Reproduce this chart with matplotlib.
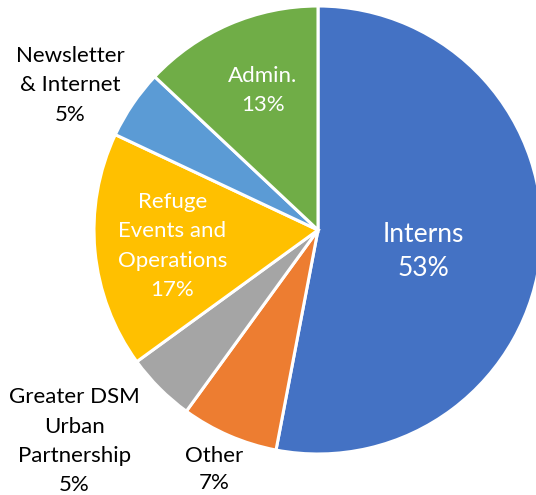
import matplotlib.pyplot as plt

plt.rcParams['font.family'] = ['Lato', 'DejaVu Sans']

labels = ['Interns', 'Other', 'Greater DSM\nUrban\nPartnership',
          'Refuge\nEvents and\nOperations', 'Newsletter\n& Internet', 'Admin.']
shares = [53, 7, 5, 17, 5, 13]
colors = ['#4472C4', '#ED7D31', '#A5A5A5', '#FFC000', '#5B9BD5', '#70AD47']

# label layout (axes data units, radius = 1)
label_xy = [(0.469, -0.097), (-0.462, -1.070), (-1.089, -0.943),
            (-0.650, -0.072), (-1.105, 0.646), (-0.246, 0.622)]
label_inside = [True, False, False, True, False, True]
label_size = [19, 16, 16, 16, 16, 16]
label_spacing = [1.47, 1.45, 1.59, 1.59, 1.59, 1.59]

fig = plt.figure(figsize=(5.36, 4.95), dpi=100)
cx, cy, r = 318, 230, 224
W, H = 536, 495
ax = fig.add_axes([(cx - r) / W, (H - cy - r) / H, 2 * r / W, 2 * r / H])

ax.pie(shares, colors=colors, startangle=90, counterclock=False, radius=1,
       wedgeprops=dict(edgecolor='white', linewidth=2.2))

for lab, val, (x, y), inside, fs, ls in zip(labels, shares, label_xy,
                                            label_inside, label_size,
                                            label_spacing):
    ax.text(x, y, '{}\n{}%'.format(lab, val), ha='center', va='center',
            fontsize=fs, color='white' if inside else '#000000',
            linespacing=ls, clip_on=False)

ax.set_xlim(-1, 1)
ax.set_ylim(-1, 1)
ax.set_aspect('equal')
ax.axis('off')

fig.savefig('out.png', dpi=100)
